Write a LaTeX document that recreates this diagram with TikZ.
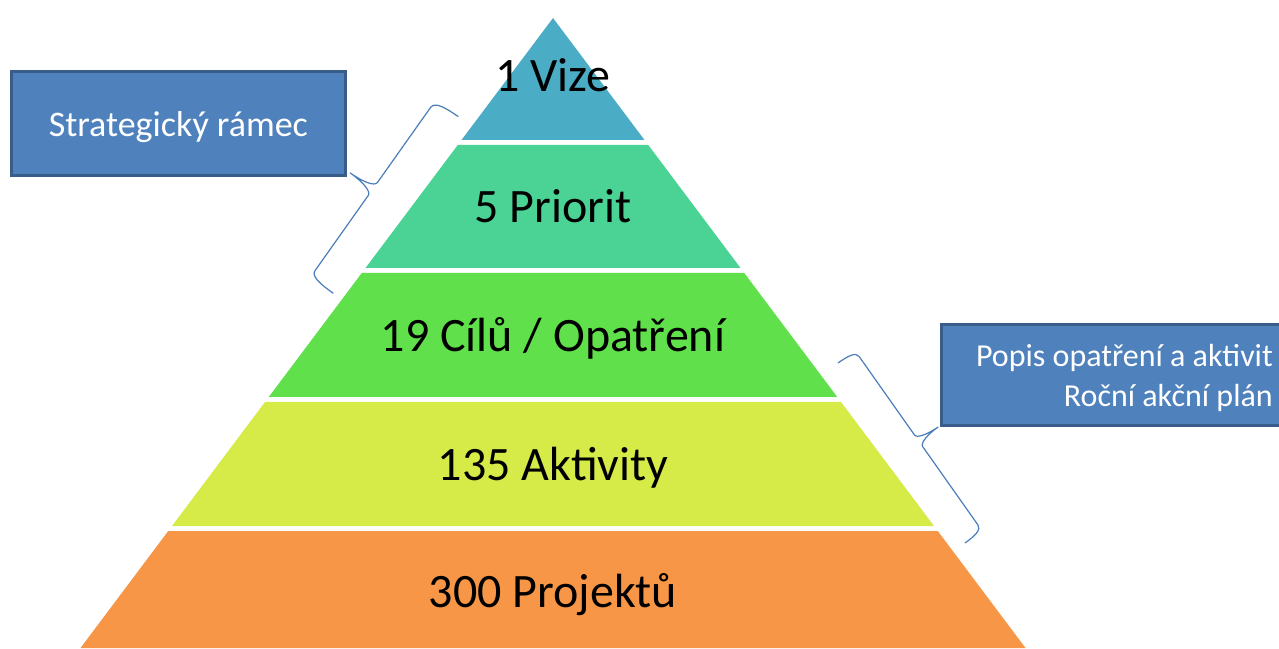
\documentclass[tikz,border=0pt]{standalone}
\usepackage{fontspec}
\setmainfont{Carlito}
\definecolor{cA}{HTML}{4BACC6}
\definecolor{cB}{HTML}{4AD395}
\definecolor{cC}{HTML}{60E04A}
\definecolor{cD}{HTML}{D6EB47}
\definecolor{cE}{HTML}{F79646}
\definecolor{boxfill}{HTML}{4F81BD}
\definecolor{boxline}{HTML}{385D8A}
\definecolor{bracecol}{HTML}{4A7EBB}
\begin{document}
\begin{tikzpicture}[x=1pt,y=1pt,
  lbl/.style={anchor=base,inner sep=0pt,font=\fontsize{48}{58}\selectfont},
  bluebox/.style={draw=boxline,line width=3pt,fill=boxfill,inner sep=0pt},
  boxtxt/.style={text=white,inner sep=0pt},
  bracestyle/.style={draw=bracecol,line width=1.2pt}]
\clip (0,0) rectangle (1279,648);
\fill[white] (0,0) rectangle (1279,648);
% pyramid layers
\fill[cA] (553,630) -- (644.5,508) -- (461.5,508) -- cycle;
\fill[cB] (457.75,503) -- (648.25,503) -- (740.5,380) -- (365.5,380) -- cycle;
\fill[cC] (361.75,375) -- (744.25,375) -- (837.25,251) -- (268.75,251) -- cycle;
\fill[cD] (265,246) -- (841,246) -- (934,122) -- (172,122) -- cycle;
\fill[cE] (168.25,117) -- (937.75,117) -- (1025.5,0) -- (80.5,0) -- cycle;
% labels
\node[lbl] (vize) at (553,556) {1 Vize};
\node[lbl] (prior) at (553,425) {5 Priorit};
\node[lbl] (cile) at (553,296) {19 Cílů / Opatření};
\node[lbl] (akt) at (553,167) {135 Aktivity};
\node[lbl] (proj) at (553,41) {300 Projektů};
% left box
\node[bluebox,boxtxt,minimum width=333.7pt,minimum height=104pt,
      text height=26pt,text depth=0pt,font=\fontsize{36}{44}\selectfont]
      (strat) at (178.3,524) {Strategický rámec};
% right box
\node[bluebox,minimum width=362pt,minimum height=101pt,anchor=west] (popisbox) at (939.5,273.3) {};
\node[boxtxt,anchor=base east,font=\fontsize{32}{40}\selectfont] (popis1) at (1273,281.3) {Popis opatření a aktivit};
\node[boxtxt,anchor=base east,font=\fontsize{32}{40}\selectfont] (popis2) at (1273,241.3) {Roční akční plán};
% left brace
\coordinate (lb1) at (333.3,354.7);
\coordinate (lb2) at (458.3,531.3);
\begin{scope}[shift={(lb1)},rotate=54.7]
\draw[bracestyle] (0,0) .. controls (0,16) and (1,28) .. (8,28) -- (100,28)
  .. controls (105,28) and (108,40) .. (108,56)
  .. controls (108,40) and (111,28) .. (116,28) -- (208,28)
  .. controls (215,28) and (216.4,16) .. (216.4,0);
\end{scope}
% right brace
\coordinate (rb1) at (838,285);
\coordinate (rb2) at (965,105);
\begin{scope}[shift={(rb1)},rotate=-54.8]
\draw[bracestyle] (0,0) .. controls (0,12) and (1,21) .. (7,21) -- (103,21)
  .. controls (107,21) and (110,32) .. (110,45)
  .. controls (110,32) and (113,21) .. (117,21) -- (213,21)
  .. controls (219,21) and (220.3,12) .. (220.3,0);
\end{scope}
\end{tikzpicture}
\end{document}
